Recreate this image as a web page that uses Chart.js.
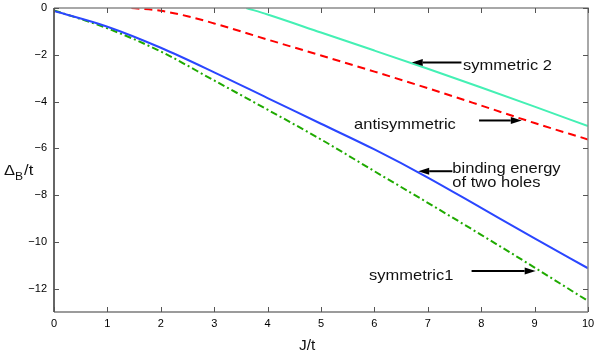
<!DOCTYPE html>
<html>
<head>
<meta charset="utf-8">
<script src="https://cdn.jsdelivr.net/npm/chart.js@4/dist/chart.umd.min.js"></script>
<style>
  body { margin: 0; background: #fff; }
  canvas { display: block; }
</style>
</head>
<body>
<canvas id="chart" width="599" height="354"></canvas>
<script>
// values (J/t on x, Delta_B/t on y)
const xVals = [0, 1, 2, 3, 4, 5, 6, 7, 8, 9, 10];
const bindingEnergy = [-0.13, -0.8, -1.7, -2.75, -3.85, -4.95, -6.05, -7.25, -8.55, -9.85, -11.13];
const symmetric1 = [-0.1, -0.87, -1.86, -3.1, -4.35, -5.62, -6.98, -8.33, -9.7, -11.1, -12.53];
const antiX = [1.45, 2, 2.5, 3, 4, 5, 6, 7, 8, 9, 10];
const antisymmetric = [0, -0.12, -0.35, -0.66, -1.35, -2.03, -2.72, -3.43, -4.17, -4.92, -5.62];
const sym2X = [3.6, 4, 5, 6, 7, 8, 9, 10];
const symmetric2 = [0, -0.28, -1.05, -1.82, -2.6, -3.4, -4.22, -5.05];

const xTicks = [0, 1, 2, 3, 4, 5, 6, 7, 8, 9, 10];
const yTicks = [0, -2, -4, -6, -8, -10, -12];

// labels with arrows, in data units: text position, arrow tail, arrow head
const notes = [
  { lines: ['symmetric 2'], x: 7.66, y: -2.47, tail: [7.63, -2.33], head: [6.7, -2.33] },
  { lines: ['antisymmetric'], x: 5.62, y: -4.99, tail: [7.96, -4.81], head: [8.76, -4.81] },
  { lines: ['binding energy', 'of two holes'], x: 7.46, y: -6.9, tail: [7.46, -6.98], head: [6.82, -6.98] },
  { lines: ['symmetric1'], x: 5.9, y: -11.46, tail: [7.82, -11.25], head: [9.02, -11.25] }
];

const FONT = '"Liberation Sans", Arial, Helvetica, sans-serif';
const STRETCH = 1.1; // the original text is a bit wider than Arial

function pts(xs, ys) {
  return xs.map((x, i) => ({ x: x, y: ys[i] }));
}

function fmt(v) {
  return v < 0 ? '\u2212' + Math.abs(v) : String(v);
}

function wideText(ctx, t, x, y) {
  ctx.save();
  ctx.translate(x, y);
  ctx.scale(STRETCH, 1);
  ctx.fillText(t, 0, 0);
  ctx.restore();
  return ctx.measureText(t).width * STRETCH;
}

const framePlugin = {
  id: 'frame',
  afterDatasetsDraw(chart) {
    const { ctx, chartArea: a, scales } = chart;
    ctx.save();
    // box
    ctx.lineWidth = 1.5;
    ctx.strokeStyle = '#8c8c8c';
    ctx.beginPath();
    ctx.moveTo(a.left, a.top); ctx.lineTo(a.right, a.top); ctx.lineTo(a.right, a.bottom);
    ctx.stroke();
    ctx.strokeStyle = '#7a7a7a';
    ctx.beginPath();
    ctx.moveTo(a.left, a.bottom); ctx.lineTo(a.right, a.bottom);
    ctx.stroke();
    ctx.strokeStyle = '#333';
    ctx.beginPath();
    ctx.moveTo(a.left, a.top); ctx.lineTo(a.left, a.bottom);
    ctx.stroke();
    // inward ticks
    ctx.lineWidth = 1;
    ctx.strokeStyle = '#555';
    ctx.beginPath();
    xTicks.forEach(v => {
      const px = Math.round(scales.x.getPixelForValue(v)) + 0.5;
      ctx.moveTo(px, a.bottom); ctx.lineTo(px, a.bottom - 5);
      ctx.moveTo(px, a.top); ctx.lineTo(px, a.top + 5);
    });
    yTicks.forEach(v => {
      const py = Math.round(scales.y.getPixelForValue(v)) + 0.5;
      ctx.moveTo(a.left, py); ctx.lineTo(a.left + 5, py);
      ctx.moveTo(a.right, py); ctx.lineTo(a.right - 5, py);
    });
    ctx.stroke();
    ctx.restore();
  }
};

const notesPlugin = {
  id: 'notes',
  afterDraw(chart) {
    const { ctx, scales, chartArea: a } = chart;
    const X = v => scales.x.getPixelForValue(v);
    const Y = v => scales.y.getPixelForValue(v);
    ctx.save();
    ctx.fillStyle = '#111';
    ctx.strokeStyle = '#000';
    ctx.font = '15px ' + FONT;
    ctx.textBaseline = 'middle';
    ctx.textAlign = 'left';
    notes.forEach(n => {
      n.lines.forEach((t, i) => wideText(ctx, t, X(n.x), Y(n.y) + i * 14));
      const x1 = X(n.tail[0]), y1 = Y(n.tail[1]);
      const x2 = X(n.head[0]), y2 = Y(n.head[1]);
      const ang = Math.atan2(y2 - y1, x2 - x1);
      const len = 11, half = 3.5;
      const bx = x2 - len * Math.cos(ang), by = y2 - len * Math.sin(ang);
      ctx.lineWidth = 2;
      ctx.beginPath();
      ctx.moveTo(x1, y1); ctx.lineTo(bx, by);
      ctx.stroke();
      ctx.beginPath();
      ctx.moveTo(x2, y2);
      ctx.lineTo(bx + half * Math.sin(ang), by - half * Math.cos(ang));
      ctx.lineTo(bx - half * Math.sin(ang), by + half * Math.cos(ang));
      ctx.closePath();
      ctx.fillStyle = '#000';
      ctx.fill();
      ctx.fillStyle = '#111';
    });
    // y axis title: Delta_B/t, written horizontally
    ctx.textBaseline = 'alphabetic';
    ctx.font = '15px ' + FONT;
    let x = 4;
    const base = Y(-7.15);
    x += wideText(ctx, '\u0394', x, base);
    ctx.font = '11px ' + FONT;
    x += wideText(ctx, 'B', x, base + 5) + 1;
    ctx.font = '15px ' + FONT;
    wideText(ctx, '/t', x, base);
    // x axis title, a little left of the centre as in the original
    ctx.font = '14px ' + FONT;
    const w = ctx.measureText('J/t').width * STRETCH;
    wideText(ctx, 'J/t', X(4.74) - w / 2, a.bottom + 38);
    ctx.restore();
  }
};

new Chart(document.getElementById('chart'), {
  type: 'line',
  data: {
    datasets: [
      {
        label: 'binding energy of two holes',
        data: pts(xVals, bindingEnergy),
        borderColor: '#2a46ff',
        borderWidth: 2
      },
      {
        label: 'symmetric1',
        data: pts(xVals, symmetric1),
        borderColor: '#1faa00',
        borderWidth: 2,
        borderDash: [7, 3, 2, 3]
      },
      {
        label: 'antisymmetric',
        data: pts(antiX, antisymmetric),
        borderColor: '#ff0000',
        borderWidth: 2,
        borderDash: [8, 5]
      },
      {
        label: 'symmetric 2',
        data: pts(sym2X, symmetric2),
        borderColor: '#44f0b4',
        borderWidth: 2
      }
    ]
  },
  options: {
    responsive: false,
    animation: false,
    parsing: false,
    elements: {
      point: { radius: 0 },
      line: { cubicInterpolationMode: 'monotone', fill: false }
    },
    layout: { padding: { top: 8, right: 11, left: 0, bottom: 0 } },
    plugins: {
      legend: { display: false },
      tooltip: { enabled: false }
    },
    scales: {
      x: {
        type: 'linear',
        min: 0,
        max: 10,
        afterBuildTicks: s => { s.ticks = xTicks.map(v => ({ value: v })); },
        afterFit: s => { s.height = 42; s.paddingLeft = 0; s.paddingRight = 0; },
        grid: { display: false, drawTicks: false },
        border: { display: false },
        ticks: {
          padding: 5,
          color: '#000',
          font: { family: FONT, size: 11 },
          maxRotation: 0,
          callback: v => fmt(v)
        }
      },
      y: {
        type: 'linear',
        min: -13,
        max: 0,
        afterBuildTicks: s => { s.ticks = yTicks.map(v => ({ value: v })); },
        afterFit: s => { s.width = 54; s.paddingTop = 0; s.paddingBottom = 0; },
        grid: { display: false, drawTicks: false },
        border: { display: false },
        ticks: {
          padding: 7,
          color: '#000',
          font: { family: FONT, size: 11 },
          callback: v => fmt(v)
        }
      }
    }
  },
  plugins: [framePlugin, notesPlugin]
});
</script>
</body>
</html>
